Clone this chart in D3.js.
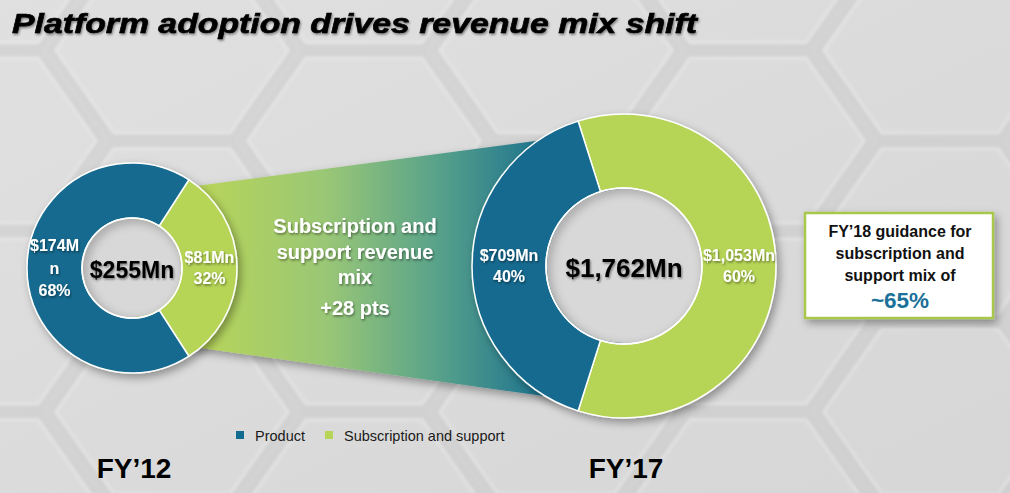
<!DOCTYPE html>
<html>
<head>
<meta charset="utf-8">
<script src="https://cdn.jsdelivr.net/npm/d3@7/dist/d3.min.js"></script>
<style>
  html, body { margin: 0; padding: 0; background: #dadada; }
  svg { display: block; font-family: "Liberation Sans", Arial, sans-serif; }
</style>
</head>
<body>
<svg id="chart" width="1010" height="493"></svg>
<script>
// ---------------- data ----------------
const years = ["FY’12", "FY’17"];
const seriesNames = ["Product", "Subscription and support"];
const productValues = [174, 709];
const subscriptionValues = [81, 1053];
const totalLabels = ["$255Mn", "$1,762Mn"];
const productLabels = [["$174M", "n", "68%"], ["$709Mn", "40%"]];
const subscriptionLabels = [["$81Mn", "32%"], ["$1,053Mn", "60%"]];
const bridgeLines = ["Subscription and", "support revenue", "mix"];
const bridgeDelta = "+28 pts";
const guidanceLines = ["FY’18 guidance for", "subscription and", "support mix of"];
const guidanceValue = "~65%";
const title = "Platform adoption drives revenue mix shift";

// ---------------- layout ----------------
const W = 1010, H = 493;
const colors = { product: "#136b8f", subscription: "#b6d556" };
const donuts = [
  { cx: 132, cy: 268, outer: 105, inner: 50, totalSize: 23, labelSize: 16 },
  { cx: 624, cy: 266, outer: 152, inner: 78, totalSize: 26, labelSize: 16 }
];

const svg = d3.select("#chart");
const defs = svg.append("defs");

// background gradient
const bg = defs.append("linearGradient").attr("id", "bg").attr("x1", 0).attr("y1", 0).attr("x2", 1).attr("y2", 1);
bg.append("stop").attr("offset", 0).attr("stop-color", "#e0e0e0");
bg.append("stop").attr("offset", 0.5).attr("stop-color", "#dbdbdb");
bg.append("stop").attr("offset", 1).attr("stop-color", "#d6d6d6");

// bridge gradient
const bridge = defs.append("linearGradient").attr("id", "bridge")
  .attr("gradientUnits", "userSpaceOnUse").attr("x1", 200).attr("y1", 0).attr("x2", 560).attr("y2", 0);
[[0, "#b8d55a"], [0.35, "#9ac776"], [0.65, "#5aa38a"], [1, "#136b8f"]].forEach(([o, c]) =>
  bridge.append("stop").attr("offset", o).attr("stop-color", c));

// shadows
const sh = defs.append("filter").attr("id", "shadow").attr("x", "-20%").attr("y", "-20%").attr("width", "150%").attr("height", "150%");
sh.append("feDropShadow").attr("dx", 3).attr("dy", 4).attr("stdDeviation", 4).attr("flood-color", "#000").attr("flood-opacity", 0.35);
const tsh = defs.append("filter").attr("id", "tshadow").attr("x", "-10%").attr("y", "-30%").attr("width", "130%").attr("height", "170%");
tsh.append("feDropShadow").attr("dx", 1).attr("dy", 1.5).attr("stdDeviation", 1).attr("flood-color", "#000").attr("flood-opacity", 0.45);
const insh = defs.append("filter").attr("id", "blur4").attr("x", "-30%").attr("y", "-30%").attr("width", "160%").attr("height", "160%");
insh.append("feGaussianBlur").attr("stdDeviation", 4);
const hb = defs.append("filter").attr("id", "blur2").attr("x", "-10%").attr("y", "-10%").attr("width", "120%").attr("height", "120%");
hb.append("feGaussianBlur").attr("stdDeviation", 1.5);

svg.append("rect").attr("width", W).attr("height", H).attr("fill", "url(#bg)");

// hexagon background pattern
const hexR = 128;
const hexG = svg.append("g").attr("opacity", 0.4).attr("filter", "url(#blur2)");
const hexPath = (cx, cy, r) => {
  const pts = d3.range(6).map(i => {
    const a = Math.PI / 3 * i;
    return [cx + r * Math.cos(a), cy + r * Math.sin(a) * 0.82];
  });
  return "M" + pts.map(p => p.join(",")).join("L") + "Z";
};
for (let col = -1; col < 7; col++) {
  for (let row = -1; row < 4; row++) {
    const cx = -20 + col * hexR * 1.5;
    const cy = -40 + row * hexR * 1.64 * 0.82 * 1.05 + (col % 2 ? hexR * 0.86 * 0.82 : 0);
    hexG.append("path").attr("d", hexPath(cx, cy, hexR - 6))
      .attr("fill", "none").attr("stroke", "#c6c6c6").attr("stroke-width", 9);
    hexG.append("path").attr("d", hexPath(cx, cy, hexR - 12))
      .attr("fill", "none").attr("stroke", "#efefef").attr("stroke-width", 3);
  }
}

// title
svg.append("text")
  .attr("x", 12).attr("y", 33)
  .attr("font-size", 27).attr("font-weight", "bold").attr("font-style", "italic")
  .attr("fill", "#000").attr("stroke", "#000").attr("stroke-width", 0.6)
  .attr("textLength", 685).attr("lengthAdjust", "spacingAndGlyphs")
  .attr("filter", "url(#tshadow)")
  .text(title);

// bridge (trapezoid) between donuts
const L = donuts[0], R = donuts[1];
const bridgePts = [
  [L.cx, L.cy - L.outer * 0.70],
  [R.cx, R.cy - R.outer * 0.90],
  [R.cx, R.cy + R.outer * 0.93],
  [L.cx, L.cy + L.outer * 0.67]
];
svg.append("path")
  .attr("d", d3.line()(bridgePts) + "Z")
  .attr("fill", "url(#bridge)")
  .attr("filter", "url(#shadow)");

// bridge text
const bx = 355;
const bt = svg.append("g").attr("filter", "url(#tshadow)");
bridgeLines.forEach((t, i) => {
  bt.append("text").attr("x", bx).attr("y", 233 + i * 25.5)
    .attr("text-anchor", "middle").attr("font-size", 20).attr("font-weight", "bold")
    .attr("fill", "#fff").text(t);
});
bt.append("text").attr("x", bx).attr("y", 315)
  .attr("text-anchor", "middle").attr("font-size", 20).attr("font-weight", "bold")
  .attr("fill", "#fff").text(bridgeDelta);

// donuts
donuts.forEach((d, i) => {
  const vals = [
    { key: "subscription", value: subscriptionValues[i], label: subscriptionLabels[i] },
    { key: "product", value: productValues[i], label: productLabels[i] }
  ];
  const total = productValues[i] + subscriptionValues[i];
  const subFrac = subscriptionValues[i] / total;
  const start = (Math.PI / 2) - subFrac * Math.PI;  // subscription centred at 3 o'clock
  const pie = d3.pie().sort(null).value(v => v.value).startAngle(start).endAngle(start + 2 * Math.PI);
  const arc = d3.arc().innerRadius(d.inner).outerRadius(d.outer);
  const labelArc = d3.arc().innerRadius((d.inner + d.outer) / 2).outerRadius((d.inner + d.outer) / 2);
  const g = svg.append("g").attr("transform", `translate(${d.cx},${d.cy})`);
  const arcs = pie(vals);

  g.append("g").attr("filter", "url(#shadow)")
    .selectAll("path").data(arcs).join("path")
    .attr("d", arc)
    .attr("fill", a => colors[a.data.key])
    .attr("stroke", "#fff").attr("stroke-width", 1.5);

  // inner hole shading (inset shadow)
  const clipId = "hole" + i;
  defs.append("clipPath").attr("id", clipId).append("circle").attr("r", d.inner - 1);
  const hole = g.append("g").attr("clip-path", `url(#${clipId})`);
  hole.append("circle").attr("r", d.inner).attr("fill", "#d8d8d8");
  hole.append("circle").attr("cx", 3).attr("cy", 3).attr("r", d.inner + 3)
    .attr("fill", "none").attr("stroke", "#8a8a8a").attr("stroke-width", 10)
    .attr("opacity", 0.6).attr("filter", "url(#blur4)");
  g.append("circle").attr("r", d.inner).attr("fill", "none").attr("stroke", "#fff").attr("stroke-width", 1.5);

  // segment labels
  arcs.forEach(a => {
    const [lx, ly] = labelArc.centroid(a);
    const n = a.data.label.length;
    const lh = n === 3 ? 22.5 : 21;
    const t = g.append("text").attr("text-anchor", "middle")
      .attr("font-size", d.labelSize).attr("font-weight", "bold").attr("fill", "#fff")
      .attr("filter", "url(#tshadow)");
    a.data.label.forEach((s, k) => {
      t.append("tspan").attr("x", lx)
        .attr("y", ly + (k - (n - 1) / 2) * lh + d.labelSize * 0.35).text(s);
    });
  });

  // total in centre
  g.append("text").attr("text-anchor", "middle").attr("y", d.totalSize * 0.36 + 2)
    .attr("font-size", d.totalSize).attr("font-weight", "bold").attr("fill", "#000")
    .attr("filter", "url(#tshadow)")
    .text(totalLabels[i]);

  // year label
  svg.append("text").attr("x", d.cx + 2).attr("y", 478)
    .attr("text-anchor", "middle").attr("font-size", 28).attr("font-weight", "bold")
    .attr("fill", "#000").text(years[i]);
});

// legend
const legend = svg.append("g");
const legendItems = [
  { name: seriesNames[0], color: colors.product, x: 236 },
  { name: seriesNames[1], color: colors.subscription, x: 325 }
];
legendItems.forEach(it => {
  legend.append("rect").attr("x", it.x).attr("y", 431).attr("width", 8).attr("height", 8).attr("fill", it.color);
  legend.append("text").attr("x", it.x + 19).attr("y", 440.5)
    .attr("font-size", 14.5).attr("fill", "#1a1a1a").text(it.name);
});

// guidance box
const box = svg.append("g");
box.append("rect").attr("x", 805).attr("y", 213).attr("width", 188).attr("height", 105)
  .attr("fill", "#fff").attr("stroke", "#a8c84c").attr("stroke-width", 2.5)
  .attr("filter", "url(#shadow)");
guidanceLines.forEach((t, i) => {
  box.append("text").attr("x", 900).attr("y", 237 + i * 22)
    .attr("text-anchor", "middle").attr("font-size", 16).attr("font-weight", "bold")
    .attr("fill", "#111").text(t);
});
box.append("text").attr("x", 900).attr("y", 308)
  .attr("text-anchor", "middle").attr("font-size", 22.5).attr("font-weight", "bold")
  .attr("fill", "#1b7199").text(guidanceValue);
</script>
</body>
</html>
